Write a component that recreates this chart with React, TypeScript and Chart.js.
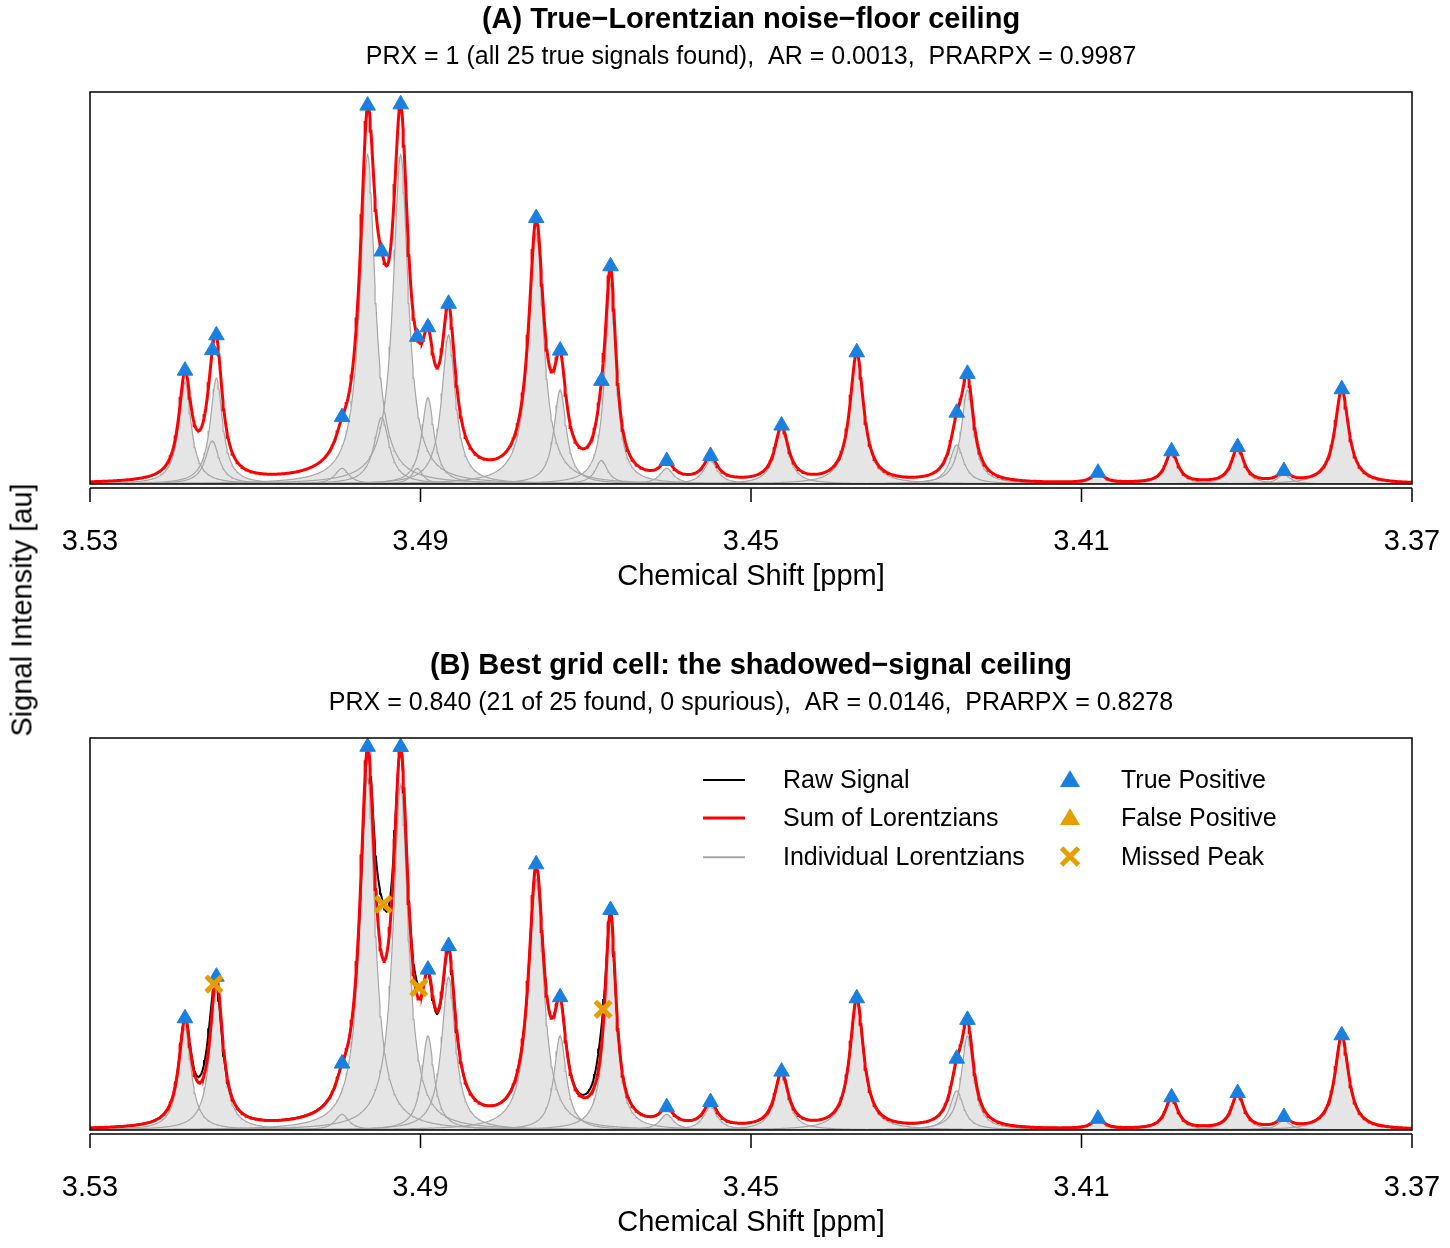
import React, { useEffect, useRef } from "react";
import { Chart, registerables } from "chart.js";
Chart.register(...registerables);

// ---- data ----
const peakPpm = [3.5185, 3.5152, 3.5147, 3.4995, 3.4964, 3.4947, 3.4924, 3.4904, 3.4891, 3.4866, 3.4760, 3.4731, 3.4681, 3.4670, 3.4602, 3.4549, 3.4463, 3.4372, 3.4251, 3.4238, 3.4080, 3.3991, 3.3911, 3.3855, 3.3785];
const peakAmp = [0.26, 0.11, 0.27, 0.04, 0.84, 0.17, 0.84, 0.04, 0.22, 0.38, 0.64, 0.24, 0.06, 0.51, 0.04, 0.06, 0.14, 0.33, 0.10, 0.24, 0.025, 0.08, 0.09, 0.025, 0.24];
const peakHw = [0.0009, 0.0010, 0.0009, 0.0010, 0.0011, 0.0011, 0.0011, 0.0008, 0.0009, 0.0010, 0.0011, 0.0009, 0.0009, 0.0008, 0.0010, 0.0010, 0.0010, 0.0010, 0.0010, 0.0009, 0.0009, 0.0009, 0.0009, 0.0009, 0.0010];
// fitted amplitudes in panel B (null = missed peak)
const fitAmpB = [0.26, null, 0.37, 0.04, 0.90, null, 0.88, null, 0.24, 0.39, 0.64, 0.24, null, 0.54, 0.04, 0.06, 0.14, 0.33, 0.10, 0.24, 0.025, 0.08, 0.09, 0.025, 0.24];
const xTicks = [3.53, 3.49, 3.45, 3.41, 3.37];
const titlesA = ["(A) True\u2212Lorentzian noise\u2212floor ceiling", "PRX = 1 (all 25 true signals found),  AR = 0.0013,  PRARPX = 0.9987"];
const titlesB = ["(B) Best grid cell: the shadowed\u2212signal ceiling", "PRX = 0.840 (21 of 25 found, 0 spurious),  AR = 0.0146,  PRARPX = 0.8278"];

const FONT = "'Liberation Sans', Arial, sans-serif";
const grid: number[] = [];
for (let i = 0; i <= 1600; i++) grid.push(+(3.37 + i * 0.0001).toFixed(5));

const lor = (x: number, c: number, a: number, w: number) => a / (1 + ((x - c) / w) ** 2);
const sumAt = (x: number, amps: (number | null)[]) =>
  amps.reduce((s: number, a, i) => (a == null ? s : s + lor(x, peakPpm[i], a, peakHw[i])), 0);

function buildDatasets(amps: (number | null)[], panelB: boolean) {
  const ds: any[] = [];
  const indiv = amps.map((a, i) => (a == null ? null : grid.map((x) => lor(x, peakPpm[i], a, peakHw[i]))));
  const env = grid.map((x, k) => ({ x, y: Math.max(...indiv.map((c) => (c ? c[k] : 0))) }));
  ds.push({ type: "line", data: env, borderWidth: 0, pointRadius: 0, fill: "origin", backgroundColor: "#e5e5e5", order: 10 });
  indiv.forEach((c) => {
    if (!c) return;
    ds.push({ type: "line", data: grid.map((x, k) => ({ x, y: c[k] })), borderColor: "#a6a6a6", borderWidth: 1.2, pointRadius: 0, fill: false, order: 9 });
  });
  if (panelB) {
    ds.push({ type: "line", data: grid.map((x) => ({ x, y: sumAt(x, peakAmp) })), borderColor: "#000", borderWidth: 2, pointRadius: 0, fill: false, order: 8 });
  }
  ds.push({ type: "line", data: grid.map((x) => ({ x, y: sumAt(x, amps) })), borderColor: "#ff0000", borderWidth: 3, pointRadius: 0, fill: false, order: 7 });
  const tp = amps.map((a, i) => (a == null ? null : { x: peakPpm[i], y: sumAt(peakPpm[i], amps) })).filter(Boolean);
  ds.push({ type: "scatter", data: tp, pointStyle: "triangle", pointRadius: 9, backgroundColor: "#1a80e0", borderColor: "#1a80e0", borderWidth: 1, clip: false, order: 1 });
  if (panelB) {
    const miss = amps.map((a, i) => (a == null ? { x: peakPpm[i] - 0.0002, y: sumAt(peakPpm[i] - 0.0002, peakAmp) } : null)).filter(Boolean);
    ds.push({ type: "scatter", data: miss, pointStyle: "crossRot", pointRadius: 11, borderColor: "#e69f00", borderWidth: 5, clip: false, order: 0 });
  }
  return ds;
}

function makeFrame(titles: string[], titleY: number, subY: number) {
  return {
    id: "frame",
    afterDraw(chart: any) {
      const { ctx, chartArea: a } = chart;
      const xs = chart.scales.x;
      ctx.save();
      ctx.strokeStyle = "#000";
      ctx.lineWidth = 1.5;
      ctx.strokeRect(a.left, a.top, a.right - a.left, a.bottom - a.top);
      ctx.beginPath();
      ctx.moveTo(xs.getPixelForValue(3.53), a.bottom + 4);
      ctx.lineTo(xs.getPixelForValue(3.37), a.bottom + 4);
      xTicks.forEach((t) => {
        const p = xs.getPixelForValue(t);
        ctx.moveTo(p, a.bottom + 4);
        ctx.lineTo(p, a.bottom + 18);
      });
      ctx.stroke();
      ctx.fillStyle = "#000";
      ctx.textAlign = "center";
      ctx.textBaseline = "middle";
      ctx.font = `29px ${FONT}`;
      xTicks.forEach((t) => ctx.fillText(t.toFixed(2), xs.getPixelForValue(t), a.bottom + 58));
      ctx.font = `29px ${FONT}`;
      ctx.fillText("Chemical Shift [ppm]", (a.left + a.right) / 2, a.bottom + 93);
      ctx.font = `bold 29px ${FONT}`;
      ctx.fillText(titles[0], (a.left + a.right) / 2, titleY);
      ctx.font = `25px ${FONT}`;
      ctx.fillText(titles[1], (a.left + a.right) / 2, subY);
      ctx.restore();
    },
  };
}

function Panel({ amps, panelB, titles, height, top }: any) {
  const ref = useRef<HTMLCanvasElement>(null);
  useEffect(() => {
    const chart = new Chart(ref.current!, {
      type: "line",
      data: { datasets: buildDatasets(amps, panelB) },
      options: {
        animation: false,
        responsive: false,
        devicePixelRatio: 1,
        parsing: false as any,
        normalized: true,
        layout: { padding: { left: 90, right: 38, top, bottom: height - top - 392 } },
        plugins: { legend: { display: false }, tooltip: { enabled: false } },
        scales: {
          x: { type: "linear", min: 3.37, max: 3.53, reverse: true, display: false },
          y: { type: "linear", min: 0, max: 1.0, display: false },
        },
      },
      plugins: [makeFrame(titles, top - 72, top - 35)],
    });
    return () => chart.destroy();
  }, []);
  return <canvas ref={ref} width={1450} height={height} style={{ display: "block", width: 1450, height }} />;
}

const legendItem = (x: number, y: number, mark: React.ReactNode, label: string, tx: number) => (
  <div key={label} style={{ position: "absolute", left: 0, top: 0 }}>
    <div style={{ position: "absolute", left: x, top: y }}>{mark}</div>
    <div style={{ position: "absolute", left: tx, top: y - 15, font: `25px ${FONT}`, whiteSpace: "nowrap" }}>{label}</div>
  </div>
);
const lineMark = (color: string, w: number) => <div style={{ width: 42, height: w, background: color, transform: `translateY(-${w / 2}px)` }} />;
const triMark = (color: string) => (
  <div style={{ width: 0, height: 0, borderLeft: "10px solid transparent", borderRight: "10px solid transparent", borderBottom: `17px solid ${color}`, transform: "translate(-10px,-10px)" }} />
);
const xMark = (
  <div style={{ position: "relative", transform: "translate(-12px,-12px)", width: 24, height: 24 }}>
    <div style={{ position: "absolute", left: 0, top: 9, width: 24, height: 5, background: "#e69f00", transform: "rotate(45deg)" }} />
    <div style={{ position: "absolute", left: 0, top: 9, width: 24, height: 5, background: "#e69f00", transform: "rotate(-45deg)" }} />
  </div>
);

export default function App() {
  return (
    <div style={{ position: "absolute", left: 0, top: 0, width: 1450, height: 1248, background: "#fff" }}>
      <div style={{ position: "absolute", left: 0, top: 0 }}>
        <Panel amps={peakAmp} panelB={false} titles={titlesA} height={646} top={92} />
      </div>
      <div style={{ position: "absolute", left: 0, top: 646 }}>
        <Panel amps={fitAmpB} panelB={true} titles={titlesB} height={602} top={92} />
      </div>
      <div style={{ position: "absolute", left: 22, top: 610, transform: "translate(-50%,-50%) rotate(-90deg)", font: `29px ${FONT}`, whiteSpace: "nowrap" }}>
        Signal Intensity [au]
      </div>
      {legendItem(703, 780, lineMark("#000", 2), "Raw Signal", 783)}
      {legendItem(703, 818, lineMark("#ff0000", 3), "Sum of Lorentzians", 783)}
      {legendItem(703, 857, lineMark("#a6a6a6", 1.5), "Individual Lorentzians", 783)}
      {legendItem(1070, 780, triMark("#1a80e0"), "True Positive", 1121)}
      {legendItem(1070, 818, triMark("#e69f00"), "False Positive", 1121)}
      {legendItem(1070, 857, xMark, "Missed Peak", 1121)}
    </div>
  );
}
